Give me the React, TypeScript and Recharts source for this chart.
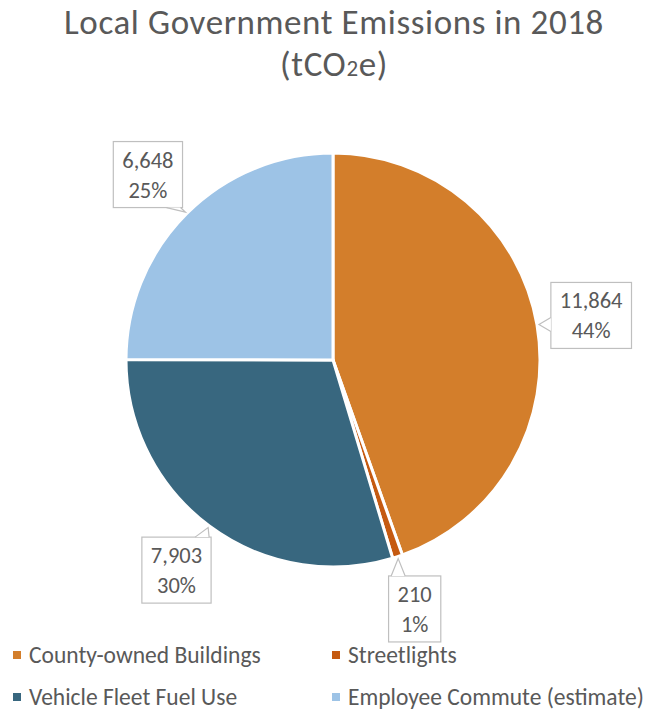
import * as React from "react";
import { Cell, Legend, Pie, PieChart } from "recharts";

const categories = [
  "County-owned Buildings",
  "Streetlights",
  "Vehicle Fleet Fuel Use",
  "Employee Commute (estimate)",
];
const emissions = [11864, 210, 7903, 6648];
const percentLabels = ["44%", "1%", "30%", "25%"];
const colors = ["#D37E2B", "#C55A11", "#38677F", "#9DC3E6"];

const FONT = "Carlito, Lato, 'Open Sans', sans-serif";
const TEXT_COLOR = "#595959";
const BOX_STROKE = "#BFBFBF";
const RAD = Math.PI / 180;
const LABEL_SIZE = 22.5;

const data = categories.map((name, i) => ({ name, value: emissions[i] }));

let measureCtx: CanvasRenderingContext2D | null = null;
function textWidth(s: string, size: number): number {
  if (!measureCtx) measureCtx = document.createElement("canvas").getContext("2d");
  if (!measureCtx) return s.length * size * 0.55;
  measureCtx.font = `${size}px ${FONT}`;
  return measureCtx.measureText(s).width;
}

function CalloutLabel(props: any) {
  const { cx, cy, midAngle, outerRadius, index, value } = props;
  const cos = Math.cos(-midAngle * RAD);
  const sin = Math.sin(-midAngle * RAD);
  const tip = { x: cx + (outerRadius + 2) * cos, y: cy + (outerRadius + 2) * sin };
  const bx = cx + (outerRadius + 55) * cos;
  const by = cy + (outerRadius + 55) * sin;

  const line1 = Number(value).toLocaleString("en-US");
  const line2 = percentLabels[index];
  const w = Math.max(textWidth(line1, LABEL_SIZE), textWidth(line2, LABEL_SIZE)) + 18;
  const h = 66;
  const x0 = bx - w / 2;
  const x1 = bx + w / 2;
  const y0 = by - h / 2;
  const y1 = by + h / 2;

  const dxOut = Math.max(x0 - tip.x, tip.x - x1, 0);
  const dyOut = Math.max(y0 - tip.y, tip.y - y1, 0);
  const baseLen = 14;
  let a: { x: number; y: number };
  let b: { x: number; y: number };
  if (dxOut >= dyOut) {
    const sx = tip.x < x0 ? x0 : x1;
    const c = Math.min(Math.max(tip.y, y0 + 2 + baseLen / 2), y1 - 2 - baseLen / 2);
    a = { x: sx, y: c - baseLen / 2 };
    b = { x: sx, y: c + baseLen / 2 };
  } else {
    const sy = tip.y < y0 ? y0 : y1;
    const c = Math.min(Math.max(tip.x, x0 + 2 + baseLen / 2), x1 - 2 - baseLen / 2);
    a = { x: c - baseLen / 2, y: sy };
    b = { x: c + baseLen / 2, y: sy };
  }

  return (
    <g>
      <rect x={x0} y={y0} width={w} height={h} fill="#fff" stroke={BOX_STROKE} strokeWidth={1.2} />
      <path d={`M${a.x},${a.y} L${tip.x},${tip.y} L${b.x},${b.y} Z`} fill="#fff" stroke="none" />
      <polyline
        points={`${a.x},${a.y} ${tip.x},${tip.y} ${b.x},${b.y}`}
        fill="none"
        stroke={BOX_STROKE}
        strokeWidth={1.2}
      />
      <text x={bx} y={by - 7} textAnchor="middle" fontSize={LABEL_SIZE} fontFamily={FONT} fill={TEXT_COLOR}>
        {line1}
      </text>
      <text x={bx} y={by + 23} textAnchor="middle" fontSize={LABEL_SIZE} fontFamily={FONT} fill={TEXT_COLOR}>
        {line2}
      </text>
    </g>
  );
}

function LegendContent() {
  return (
    <div
      style={{
        display: "grid",
        gridTemplateColumns: "319px 319px",
        rowGap: 16,
        paddingLeft: 13,
        fontFamily: FONT,
        fontSize: 23.5,
        color: TEXT_COLOR,
      }}
    >
      {categories.map((name, i) => (
        <div key={name} style={{ display: "flex", alignItems: "center", height: 26 }}>
          <span
            style={{ width: 8, height: 8, background: colors[i], marginRight: 8, display: "inline-block" }}
          />
          {name}
        </div>
      ))}
    </div>
  );
}

const titleStyle: React.CSSProperties = {
  position: "absolute",
  left: 0,
  width: 668,
  textAlign: "center",
  fontFamily: FONT,
  fontSize: 35,
  letterSpacing: 0.6,
  color: TEXT_COLOR,
  zIndex: 1,
  whiteSpace: "nowrap",
};

export default function App() {
  React.useEffect(() => {
    document.body.style.margin = "0";
  }, []);

  return (
    <div style={{ position: "relative", width: 668, height: 713, background: "#fff" }}>
      <div style={{ ...titleStyle, top: 1, height: 42, lineHeight: "42px" }}>
        Local Government Emissions in 2018
      </div>
      <div style={{ ...titleStyle, top: 43, height: 42, lineHeight: "42px" }}>
        (tCO<span style={{ fontSize: 23 }}>2</span>e)
      </div>
      <PieChart width={668} height={713} margin={{ top: 0, right: 0, bottom: 0, left: 0 }}>
        <Pie
          data={data}
          dataKey="value"
          nameKey="name"
          cx={333}
          cy={360}
          outerRadius={207}
          startAngle={90}
          endAngle={-270}
          stroke="#fff"
          strokeWidth={3}
          label={CalloutLabel}
          labelLine={false}
          isAnimationActive={false}
        >
          {data.map((d, i) => (
            <Cell key={d.name} fill={colors[i]} />
          ))}
        </Pie>
        <Legend
          content={LegendContent}
          wrapperStyle={{ position: "absolute", left: 0, top: 642, width: 668 }}
        />
      </PieChart>
    </div>
  );
}
